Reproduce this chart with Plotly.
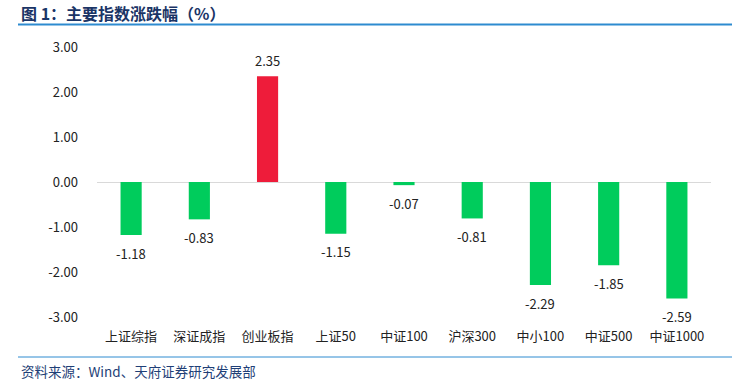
import plotly.graph_objects as go

categories = ["上证综指", "深证成指", "创业板指", "上证50", "中证100", "沪深300", "中小100", "中证500", "中证1000"]
values = [-1.18, -0.83, 2.35, -1.15, -0.07, -0.81, -2.29, -1.85, -2.59]
tick_vals = [3, 2, 1, 0, -1, -2, -3]
tick_text = ["3.00", "2.00", "1.00", "0.00", "-1.00", "-2.00", "-3.00"]

colors = ["#EE1C3A" if v > 0 else "#00CC5C" for v in values]
FONT = "Noto Sans CJK SC"

L, R, T, B = 97, 711, 47, 317
W, H = 740, 386

def px(x):
    return (x - L) / (R - L)

def py(y):
    return (B - y) / (B - T)

fig = go.Figure(go.Bar(
    x=categories, y=values, marker=dict(color=colors, line=dict(width=0)),
    width=0.31, cliponaxis=False,
))

for c, v in zip(categories, values):
    fig.add_annotation(x=c, y=v, text=f"{v:.2f}", showarrow=False, yanchor="middle",
                       yshift=16 if v > 0 else -18,
                       font=dict(family=FONT, size=13, color="#222222"))

fig.update_layout(
    width=W, height=H,
    margin=dict(l=L, r=W - R, t=T, b=H - B),
    paper_bgcolor="white", plot_bgcolor="white",
    showlegend=False,
    font=dict(family=FONT, size=13, color="#222222"),
    xaxis=dict(showgrid=False, showline=False, ticks="", ticklabelstandoff=10,
               tickfont=dict(size=13, color="#222222")),
    yaxis=dict(range=[-3, 3], tickvals=tick_vals, ticktext=tick_text, showgrid=False,
               zeroline=True, zerolinecolor="#D9D9D9", zerolinewidth=1, showline=False,
               ticks="", ticklabelstandoff=18, tickfont=dict(size=13, color="#222222")),
)

fig.add_annotation(text="<b>图 1：主要指数涨跌幅（%）</b>", xref="paper", yref="paper",
                   x=px(19), y=py(13), xanchor="left", yanchor="middle", showarrow=False,
                   font=dict(family=FONT, size=16, color="#1A3466"))
fig.add_annotation(text="资料来源：Wind、天府证券研究发展部", xref="paper", yref="paper",
                   x=px(19), y=py(371), xanchor="left", yanchor="middle", showarrow=False,
                   font=dict(family=FONT, size=13.5, color="#1F3F77"))
fig.add_shape(type="line", xref="paper", yref="paper", x0=px(18), x1=px(732), y0=py(24.5), y1=py(24.5),
              line=dict(color="#2E8BD0", width=2))
fig.add_shape(type="line", xref="paper", yref="paper", x0=px(18), x1=px(732), y0=py(357), y1=py(357),
              line=dict(color="#2E8BD0", width=1))

fig.write_html("out.html", config={"displayModeBar": False})
with open("out.html", "r", encoding="utf-8") as f:
    html = f.read()
html = html.replace("<body>", '<body style="margin:0;padding:0">', 1)
with open("out.html", "w", encoding="utf-8") as f:
    f.write(html)
